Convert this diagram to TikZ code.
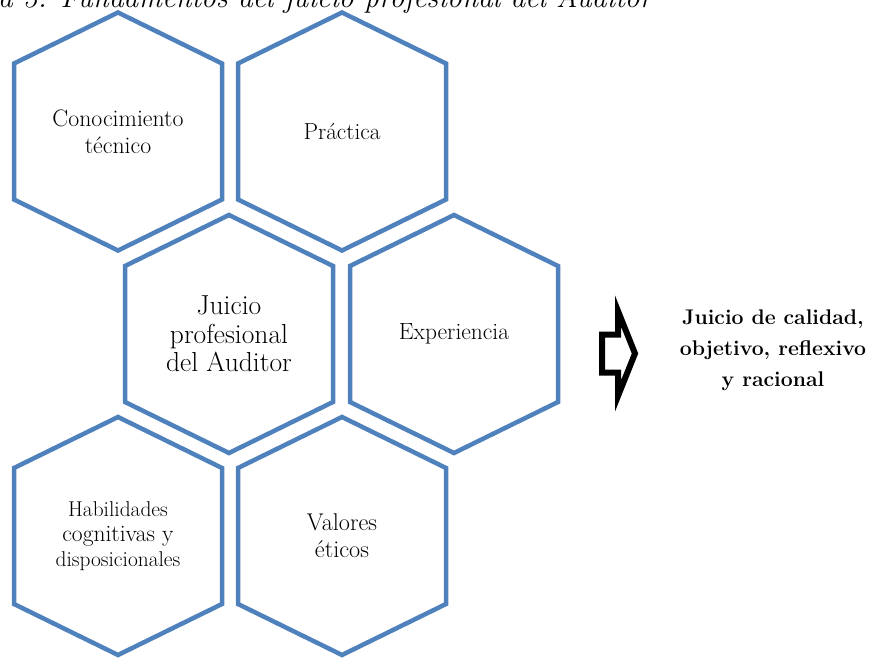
\documentclass[tikz,border=0pt]{standalone}
\definecolor{hexblue}{HTML}{4F81BD}
\newcommand{\hexcell}[1]{\draw[hexline, shift={(#1)}] (0,-119) -- (104,-68) -- (104,68) -- (0,119) -- (-104,68) -- (-104,-68) -- cycle;}
\begin{document}
\begin{tikzpicture}[x=1pt,y=-1pt,
  hexline/.style={draw=hexblue, line width=4.5pt, line join=miter},
  celltext/.style={align=center, inner sep=0pt, text=black},
  arrowline/.style={draw=black, fill=white, line width=6pt, line join=miter, miter limit=10},
  titletext/.style={inner sep=0pt, font=\itshape\fontsize{29.5}{32}\selectfont}]
\useasboundingbox (0,0) rectangle (889,658);
% title (cut at top)
\node[titletext, anchor=base east] (title) at (652,8) {a 3. Fundamentos del juicio profesional del Auditor};
% cells
\node[celltext, font=\fontsize{23.8}{26.7}\selectfont] (conoc) at (118,131.5) {Conocimiento\\técnico};
\node[celltext, font=\fontsize{23.2}{26}\selectfont] (prac) at (342,131.5) {Práctica};
\node[celltext, font=\fontsize{27.5}{28.5}\selectfont] (juicio) at (229,334) {Juicio\\profesional\\del Auditor};
\node[celltext, font=\fontsize{23.5}{26}\selectfont] (exper) at (454,334) {Experiencia};
\node[celltext, font=\fontsize{21.4}{25}\selectfont] (habil) at (118,536) {Habilidades\\{\fontsize{23.5}{25}\selectfont cognitivas y}\\disposicionales};
\node[celltext, font=\fontsize{24.2}{27}\selectfont] (valores) at (342,536) {Valores\\éticos};
\hexcell{conoc}
\hexcell{prac}
\hexcell{juicio}
\hexcell{exper}
\hexcell{habil}
\hexcell{valores}
% block arrow
\draw[arrowline] (602,334.5) -- (618,334.5) -- (618,311) -- (635,353.5) -- (618,396) -- (618,372.5) -- (602,372.5) -- cycle;
% result text
\node[celltext, font=\bfseries\fontsize{21.2}{31}\selectfont] (result) at (773,350) {Juicio de calidad,\\objetivo, reflexivo\\y racional};
\end{tikzpicture}
\end{document}
